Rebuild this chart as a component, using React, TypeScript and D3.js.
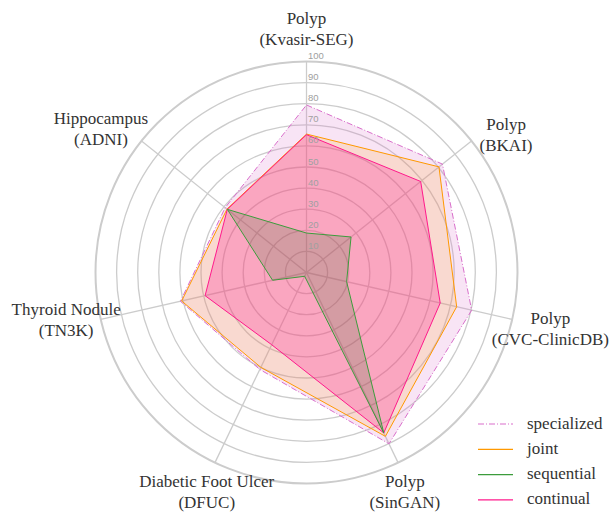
import * as d3 from 'd3';

const axisLabels: string[][] = [
  ['Polyp', '(Kvasir-SEG)'],
  ['Polyp', '(BKAI)'],
  ['Polyp', '(CVC-ClinicDB)'],
  ['Polyp', '(SinGAN)'],
  ['Diabetic Foot Ulcer', '(DFUC)'],
  ['Thyroid Nodule', '(TN3K)'],
  ['Hippocampus', '(ADNI)'],
];

const specialized = [79.4, 82.4, 80.3, 90.1, 51, 61.3, 49.3];
const joint = [65.6, 80.3, 73, 86.2, 49.9, 60.7, 48.2];
const sequential = [18.7, 27, 19.5, 84.4, 2, 16.5, 48];
const continual = [65.3, 69.2, 65, 84.4, 38, 49.3, 48];

const tickValues = [10, 20, 30, 40, 50, 60, 70, 80, 90, 100];

// small hand nudges for the category labels (layout only)
const labelNudge = [[0, 1], [8, 15], [5, 2], [-8, -1.5], [6.5, -1.5], [-1.5, -7.5], [-14, 9]];

interface Series {
  name: string;
  values: number[];
  stroke: string;
  fill: string;
  fillOpacity: number;
  dash?: string;
}

const series: Series[] = [
  { name: 'specialized', values: specialized, stroke: '#d96fcb', fill: '#dd77cc', fillOpacity: 0.2, dash: '6,2,1,2' },
  { name: 'joint', values: joint, stroke: '#ff9900', fill: '#ff9900', fillOpacity: 0.15 },
  { name: 'sequential', values: sequential, stroke: '#3c9c3c', fill: '#006400', fillOpacity: 0.15 },
  { name: 'continual', values: continual, stroke: '#ff1a8c', fill: '#ff1493', fillOpacity: 0.26 },
];

// drawing order: sequential fill sits on top of the others
const drawOrder = ['specialized', 'joint', 'continual', 'sequential'];

const App = () => {
  const width = 613;
  const height = 512;
  const cx = 306.5;
  const cy = 272.5;
  const R = 211;
  const n = axisLabels.length;

  const r = d3.scaleLinear().domain([0, 100]).range([0, R]);
  const angle = (i: number) => (i * 2 * Math.PI) / n;

  const line = d3
    .lineRadial<number>()
    .angle((_, i) => angle(i))
    .radius(d => r(d))
    .curve(d3.curveLinearClosed);

  const serif = '"Liberation Serif", "Times New Roman", serif';

  return (
    <svg
      width={width}
      height={height}
      viewBox={`0 0 ${width} ${height}`}
      style={{ position: 'absolute', left: 0, top: 0, background: '#fff' }}
    >
      <g transform={`translate(${cx},${cy})`}>
        {tickValues.map(t => (
          <circle
            key={t}
            r={r(t)}
            fill="none"
            stroke="#cccccc"
            strokeWidth={t === 100 ? 2 : 1.3}
          />
        ))}
        {axisLabels.map((_, i) => (
          <line
            key={i}
            x1={0}
            y1={0}
            x2={r(100) * Math.sin(angle(i))}
            y2={-r(100) * Math.cos(angle(i))}
            stroke="#cccccc"
            strokeWidth={1.3}
          />
        ))}
        {drawOrder.map(name => {
          const s = series.find(d => d.name === name)!;
          return (
            <g key={s.name}>
              <path d={line(s.values) || ''} fill={s.fill} fillOpacity={s.fillOpacity} stroke="none" />
              <path
                d={line(s.values) || ''}
                fill="none"
                stroke={s.stroke}
                strokeWidth={1}
                strokeDasharray={s.dash}
                strokeLinejoin="round"
              />
            </g>
          );
        })}
        {tickValues.map(t => (
          <text
            key={t}
            x={1.5}
            y={-r(t) - 2.5}
            fontFamily='"Liberation Sans", Arial, sans-serif'
            fontSize={9.5}
            fill="#a0a0a0"
          >
            {t}
          </text>
        ))}
        {axisLabels.map((lines, i) => {
          const lr = 245;
          const x = lr * Math.sin(angle(i)) + labelNudge[i][0];
          const y = -lr * Math.cos(angle(i)) + labelNudge[i][1];
          return (
            <text
              key={i}
              x={x}
              y={y}
              textAnchor="middle"
              fontFamily={serif}
              fontSize={17}
              fill="#333"
            >
              {lines.map((l, j) => (
                <tspan key={j} x={x} y={y + (j - 0.5) * 21} dominantBaseline="central">
                  {l}
                </tspan>
              ))}
            </text>
          );
        })}
      </g>
      <g>
        {series.map((s, i) => {
          const y = 424 + i * 25.3;
          return (
            <g key={s.name}>
              <line
                x1={478}
                x2={513}
                y1={y}
                y2={y}
                stroke={s.stroke}
                strokeWidth={1.2}
                strokeDasharray={s.dash}
              />
              <text
                x={527}
                y={y - 1}
                dominantBaseline="central"
                fontFamily={serif}
                fontSize={17}
                fill="#333"
              >
                {s.name}
              </text>
            </g>
          );
        })}
      </g>
    </svg>
  );
};

export default App;
